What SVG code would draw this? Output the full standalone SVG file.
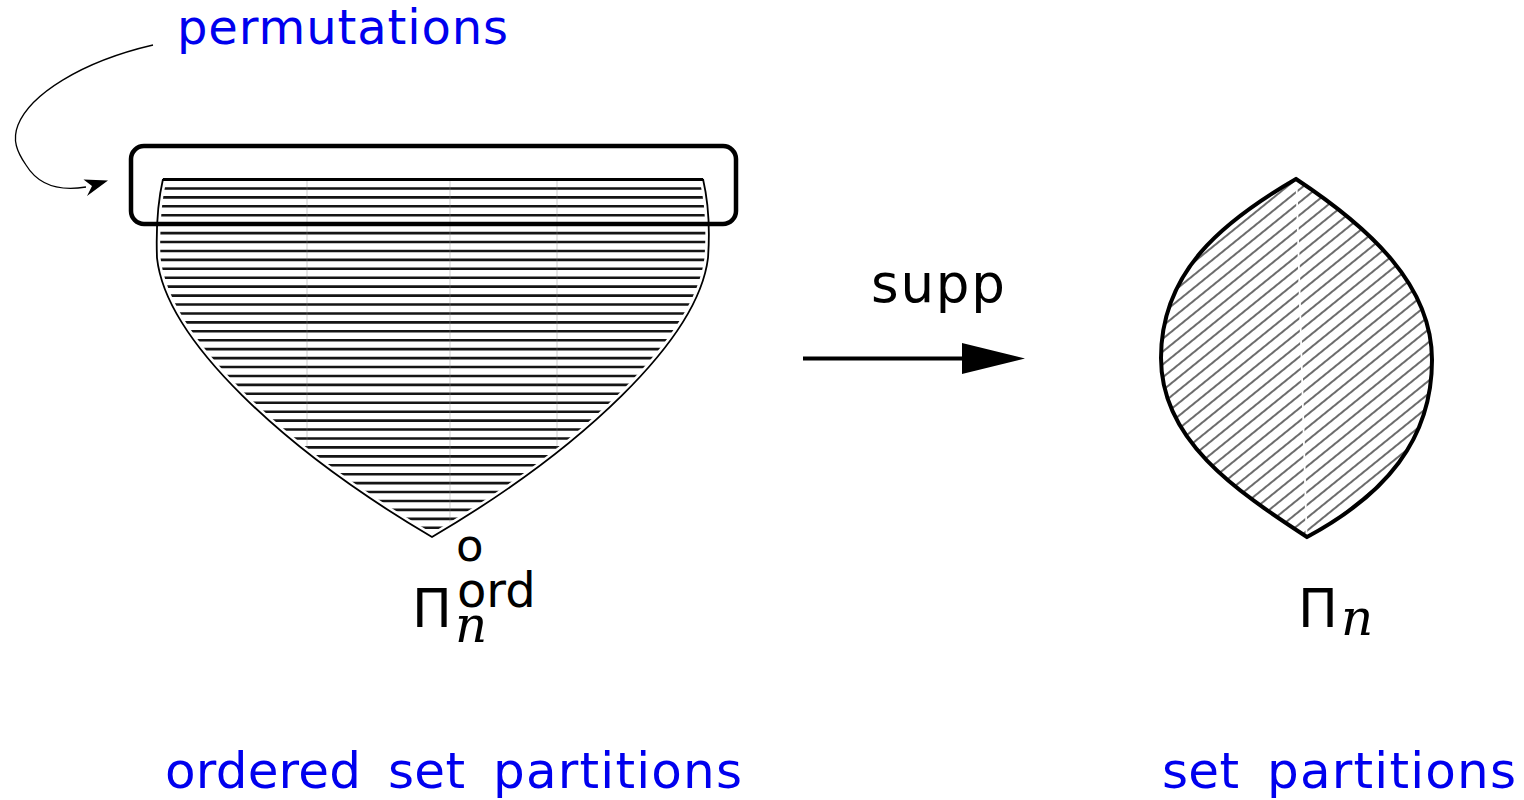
<svg xmlns="http://www.w3.org/2000/svg" width="1524" height="800" viewBox="0 0 1524 800">
<style>
.lbl{font-family:"DejaVu Sans","Liberation Sans",sans-serif;}
.blue{fill:#0000ee;}
.blk{fill:#000;}
.it{font-family:"DejaVu Serif","Liberation Serif",serif;font-style:italic;fill:#000;}
.outline{fill:none;stroke:#000;}
</style>
<defs>
<clipPath id="ordClip">
<path d="M163,179 C157,205 156,230 157,258 C166,340 284,450 432,537 C580,450 698,340 708,258 C710,230 709,205 703,179 Z"/>
</clipPath>
<clipPath id="lensClip">
<path d="M1296,179 C1222,222 1161,272 1161,358 C1161,440 1235,490 1307,537 C1385,495 1432,440 1432,360 C1432,285 1370,228 1296,179 Z"/>
</clipPath>
<pattern id="diag" patternUnits="userSpaceOnUse" width="40" height="10" patternTransform="rotate(-39)">
<line x1="-5" y1="5" x2="45" y2="5" stroke="#3a3a3a" stroke-width="1.4"/>
</pattern>
</defs>

<g id="ordered-partitions">
<g clip-path="url(#ordClip)">
<path stroke="#151515" stroke-width="2.6" fill="none" d="M150,188.43H720 M150,197.36H720 M150,206.29H720 M150,215.22H720 M150,224.15H720 M150,233.08H720 M150,242.01H720 M150,250.94H720 M150,259.87H720 M150,268.8H720 M150,277.73H720 M150,286.66H720 M150,295.59H720 M150,304.52H720 M150,313.45H720 M150,322.38H720 M150,331.31H720 M150,340.24H720 M150,349.17H720 M150,358.1H720 M150,367.03H720 M150,375.96H720 M150,384.89H720 M150,393.82H720 M150,402.75H720 M150,411.68H720 M150,420.61H720 M150,429.54H720 M150,438.47H720 M150,447.4H720 M150,456.33H720 M150,465.26H720 M150,474.19H720 M150,483.12H720 M150,492.05H720 M150,500.98H720 M150,509.91H720 M150,518.84H720 M150,527.77H720"/>
<path stroke="#888" stroke-width="0.8" stroke-opacity="0.5" fill="none" d="M307,179V540 M450,179V540 M557,179V540"/>
</g>
<path d="M163,179 C157,205 156,230 157,258 C166,340 284,450 432,537 C580,450 698,340 708,258 C710,230 709,205 703,179" fill="none" stroke="#fff" stroke-width="7"/>
<path class="outline" stroke-width="1.8" d="M163,179 C157,205 156,230 157,258 C166,340 284,450 432,537 C580,450 698,340 708,258 C710,230 709,205 703,179"/>
<line x1="163" y1="179.5" x2="703" y2="179.5" stroke="#000" stroke-width="3"/>
<text class="lbl blk" x="456" y="561" font-size="45">o</text>
<text class="lbl blk" x="412" y="627" font-size="53">Π</text>
<text class="lbl blk" x="457" y="607" font-size="48">ord</text>
<text class="it" x="455" y="642" font-size="50">n</text>
</g>

<g id="permutations-box">
<rect x="131" y="146" width="605" height="78" rx="13" ry="13" fill="none" stroke="#000" stroke-width="4.5"/>
</g>

<g id="permutations-label">
<text class="lbl blue" x="177" y="44" font-size="48" textLength="331" lengthAdjust="spacing">permutations</text>
</g>

<g id="set-partitions">
<rect x="1150" y="170" width="300" height="380" fill="url(#diag)" clip-path="url(#lensClip)"/>
<line x1="1296.5" y1="183" x2="1306.5" y2="533" stroke="#fff" stroke-width="1.8"/>
<path class="outline" stroke-width="4" stroke-linejoin="miter" d="M1296,179 C1222,222 1161,272 1161,358 C1161,440 1235,490 1307,537 C1385,495 1432,440 1432,360 C1432,285 1370,228 1296,179 Z"/>
<text class="lbl blk" x="1298" y="627" font-size="53">Π</text>
<text class="it" x="1341" y="635" font-size="50">n</text>
</g>

<g id="connectors">
<path d="M153,45 C80,62 30,95 18,125 C12,140 17,152 26,165 C37,183 56,192 86,187" fill="none" stroke="#000" stroke-width="1.3"/>
<polygon points="108,180.5 87,196 92,186 83.5,179.5" fill="#000"/>
<line x1="803" y1="358.5" x2="964" y2="358.5" stroke="#000" stroke-width="4"/>
<polygon points="962,343 1025,358.5 962,374" fill="#000"/>
<text class="lbl blk" x="871" y="302" font-size="53" textLength="134" lengthAdjust="spacing">supp</text>
</g>

<g id="captions">
<text class="lbl blue" y="788" font-size="50"><tspan x="165" textLength="196" lengthAdjust="spacing">ordered</tspan><tspan x="388" textLength="77" lengthAdjust="spacing">set</tspan><tspan x="493" textLength="249" lengthAdjust="spacing">partitions</tspan></text>
<text class="lbl blue" y="788" font-size="50"><tspan x="1162" textLength="77" lengthAdjust="spacing">set</tspan><tspan x="1267" textLength="249" lengthAdjust="spacing">partitions</tspan></text>
</g>
</svg>
